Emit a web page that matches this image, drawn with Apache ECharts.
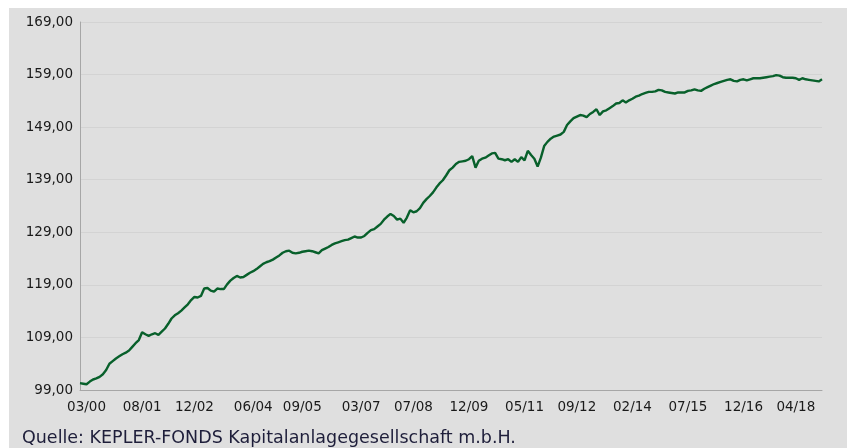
<!DOCTYPE html>
<html>
<head>
<meta charset="utf-8">
<script src="https://cdn.jsdelivr.net/npm/echarts@6/dist/echarts.min.js"></script>
<style>
  html, body { margin: 0; padding: 0; background: #ffffff; }
  #bg { position: absolute; left: 9px; top: 8px; width: 838px; height: 440px; background: #dfdfdf; }
  #chart { position: absolute; left: 0; top: 0; width: 847px; height: 448px; }
</style>
</head>
<body>
<div id="bg"></div>
<div id="chart"></div>
<script>
// monthly fund price, 01/2000 .. 12/2018
var startYear = 2000;
var values = [
  100.3, 100.2, 100.1, 100.6, 101.0, 101.2, 101.5, 102.0, 102.8, 104.0,
  104.5, 105.0, 105.4, 105.8, 106.1, 106.5, 107.2, 107.9, 108.5, 110.0,
  109.6, 109.3, 109.6, 109.8, 109.5, 110.1, 110.7, 111.6, 112.6, 113.2,
  113.6, 114.1, 114.7, 115.3, 116.1, 116.7, 116.6, 116.9, 118.3, 118.4,
  117.9, 117.7, 118.3, 118.2, 118.2, 119.1, 119.8, 120.3, 120.7, 120.4,
  120.5, 120.9, 121.3, 121.6, 122.0, 122.5, 123.0, 123.3, 123.5, 123.8,
  124.2, 124.6, 125.1, 125.4, 125.5, 125.1, 125.0, 125.1, 125.3, 125.4,
  125.5, 125.4, 125.2, 125.0, 125.6, 125.9, 126.2, 126.6, 126.9, 127.1,
  127.3, 127.5, 127.6, 127.9, 128.2, 128.0, 128.0, 128.3, 128.9, 129.4,
  129.6, 130.1, 130.6, 131.4, 132.0, 132.5, 132.1, 131.4, 131.6, 130.8,
  131.8, 133.2, 132.8, 133.0, 133.6, 134.6, 135.3, 135.9, 136.6, 137.5,
  138.3, 138.9, 139.8, 140.8, 141.3, 142.0, 142.4, 142.5, 142.6, 142.9,
  143.5, 141.3, 142.6, 143.0, 143.2, 143.6, 144.0, 144.1, 143.0, 142.9,
  142.7, 142.9, 142.4, 142.9, 142.4, 143.3, 142.7, 144.5, 143.7, 143.0,
  141.5, 143.2, 145.4, 146.2, 146.8, 147.2, 147.4, 147.6, 148.1, 149.4,
  150.1, 150.7, 151.0, 151.3, 151.2, 150.9, 151.5, 151.9, 152.4, 151.3,
  152.0, 152.2, 152.6, 153.0, 153.5, 153.6, 154.1, 153.7, 154.1, 154.4,
  154.8, 155.0, 155.3, 155.5, 155.7, 155.7, 155.8, 156.1, 156.0, 155.7,
  155.6, 155.5, 155.4, 155.6, 155.6, 155.6, 155.9, 156.0, 156.2, 156.0,
  155.9, 156.3, 156.6, 156.9, 157.2, 157.4, 157.6, 157.8, 158.0, 158.1,
  157.8, 157.7, 158.0, 158.1, 157.9, 158.1, 158.3, 158.3, 158.3, 158.4,
  158.5, 158.6, 158.7, 158.9, 158.8, 158.5, 158.4, 158.4, 158.4, 158.3,
  158.0, 158.3, 158.1, 158.0, 157.9, 157.8, 157.7, 158.1
];
var xTickLabels = ['03/00', '08/01', '12/02', '06/04', '09/05', '03/07', '07/08',
  '12/09', '05/11', '09/12', '02/14', '07/15', '12/16', '04/18'];
var yTickValues = [99, 109, 119, 129, 139, 149, 159, 169];
var sourceText = 'Quelle: KEPLER-FONDS Kapitalanlagegesellschaft m.b.H.';

var categories = [];
for (var i = 0; i < values.length; i++) {
  var m = i % 12 + 1;
  var y = (startYear + Math.floor(i / 12)) % 100;
  categories.push((m < 10 ? '0' : '') + m + '/' + (y < 10 ? '0' : '') + y);
}

var font = 'DejaVu Sans, Verdana, sans-serif';
var chart = echarts.init(document.getElementById('chart'));

chart.setOption({
  backgroundColor: 'transparent',
  animation: false,
  title: {
    text: sourceText,
    left: 17,
    top: 424,
    textStyle: { fontFamily: font, fontSize: 17.5, fontWeight: 'normal', color: '#1e1e3a' }
  },
  grid: { left: 80, right: 25, top: 22, bottom: 58, containLabel: false },
  xAxis: {
    type: 'category',
    data: categories,
    boundaryGap: false,
    axisLine: { lineStyle: { color: '#a6a6a6', width: 1 } },
    axisTick: { show: false },
    splitLine: { show: false },
    axisLabel: {
      interval: function (index, value) { return xTickLabels.indexOf(value) >= 0; },
      margin: 10,
      fontFamily: font,
      fontSize: 13.5,
      color: '#1a1a1a'
    }
  },
  yAxis: {
    type: 'value',
    min: 99,
    max: 169,
    axisLine: { show: true, lineStyle: { color: '#a6a6a6', width: 1 } },
    axisTick: { show: false, customValues: yTickValues },
    splitLine: { show: true, lineStyle: { color: '#d3d3d3', width: 1 } },
    axisLabel: {
      customValues: yTickValues,
      margin: 7,
      fontFamily: font,
      fontSize: 13.5,
      color: '#1a1a1a',
      formatter: function (v) { return v.toFixed(2).replace('.', ','); }
    }
  },
  series: [{
    type: 'line',
    data: values,
    symbol: 'none',
    lineStyle: { color: '#08602b', width: 2.4 },
    itemStyle: { color: '#08602b' }
  }]
});
</script>
</body>
</html>
